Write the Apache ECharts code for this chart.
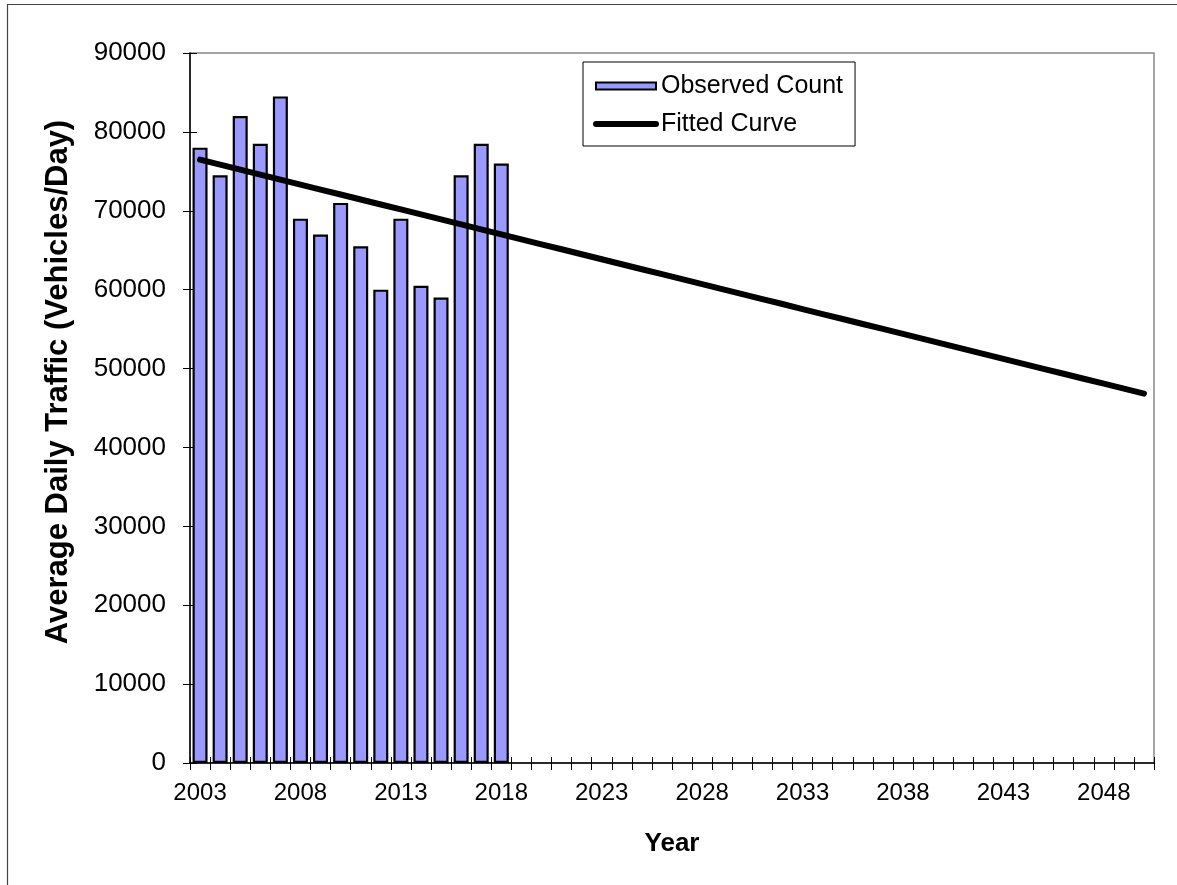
<!DOCTYPE html>
<html>
<head>
<meta charset="utf-8">
<script src="https://cdn.jsdelivr.net/npm/echarts@6/dist/echarts.min.js"></script>
<style>
html,body{margin:0;padding:0;background:#fff;}
#chart{width:1177px;height:885px;}
</style>
</head>
<body>
<div id="chart"></div>
<script>
var years = ['2003','2004','2005','2006','2007','2008','2009','2010','2011','2012','2013','2014','2015','2016','2017','2018',
  '2019','2020','2021','2022','2023','2024','2025','2026','2027','2028','2029','2030','2031','2032','2033','2034',
  '2035','2036','2037','2038','2039','2040','2041','2042','2043','2044','2045','2046','2047','2048','2049','2050'];
var observedCount = [78000, 74500, 82000, 78500, 84500, 69000, 67000, 71000, 65500, 60000, 69000, 60500, 59000, 74500, 78500, 76000];
var fittedCurve = [76480, 75850, 75220, 74590, 73950, 73320, 72690, 72060, 71430, 70800, 70170, 69540, 68900, 68270, 67640, 67010,
  66380, 65750, 65120, 64490, 63860, 63220, 62590, 61960, 61330, 60700, 60070, 59440, 58810, 58180, 57540, 56910,
  56280, 55650, 55020, 54390, 53760, 53130, 52490, 51860, 51230, 50600, 49970, 49340, 48710, 48080, 47450, 46820];
var yMin = 0, yMax = 90000, yStep = 10000;
var font = 'Liberation Sans, Arial, sans-serif';

var chart = echarts.init(document.getElementById('chart'), null, {renderer: 'canvas'});
chart.setOption({
  backgroundColor: '#ffffff',
  animation: false,
  textStyle: {fontFamily: font, color: '#000'},
  graphic: [{
    type: 'polyline', z: -10, silent: true,
    shape: {points: [[7.5, 900], [7.5, 4.5], [1200, 4.5]]},
    style: {fill: 'none', stroke: '#444', lineWidth: 1.2}
  }],
  grid: {
    left: 190, top: 53, width: 964, height: 710,
    show: true, borderColor: '#888', borderWidth: 1.5, backgroundColor: 'transparent'
  },
  legend: {
    orient: 'vertical', left: 583, top: 62,
    padding: [11, 12, 9, 10], itemGap: 12,
    itemWidth: 60, itemHeight: 7,
    borderColor: '#000', borderWidth: 1, backgroundColor: '#fff',
    textStyle: {fontFamily: font, fontSize: 25, color: '#000', lineHeight: 26},
    data: [
      {name: 'Observed Count', icon: 'rect'},
      {name: 'Fitted Curve', lineStyle: {width: 6, cap: 'round', color: '#000'}}
    ]
  },
  xAxis: [{
    type: 'category', data: years, position: 'bottom', boundaryGap: true,
    name: 'Year', nameLocation: 'middle', nameGap: 68,
    nameTextStyle: {fontFamily: font, fontSize: 26, fontWeight: 'bold', color: '#000'},
    axisLine: {show: true, lineStyle: {color: '#000', width: 1.5}},
    axisTick: {show: true, interval: 0, length: 7, lineStyle: {color: '#000', width: 1}},
    axisLabel: {interval: 4, margin: 18, fontSize: 24, color: '#000', fontFamily: font},
    splitLine: {show: false}
  }, {
    type: 'category', data: years, position: 'bottom', boundaryGap: true,
    axisLine: {show: false},
    axisTick: {show: true, inside: true, interval: 0, length: 6, lineStyle: {color: '#000', width: 1}},
    axisLabel: {show: false},
    splitLine: {show: false}
  }],
  yAxis: [{
    type: 'value', min: yMin, max: yMax, interval: yStep, position: 'left',
    name: 'Average Daily Traffic (Vehicles/Day)', nameLocation: 'middle', nameGap: 116, nameRotate: 90,
    nameTextStyle: {fontFamily: font, fontSize: 31, fontWeight: 'bold', color: '#000', padding: [0, 0, 0, 52]},
    axisLine: {show: true, lineStyle: {color: '#000', width: 1.5}},
    axisTick: {show: true, length: 7, lineStyle: {color: '#000', width: 1}},
    axisLabel: {margin: 24, fontSize: 26, color: '#000', fontFamily: font,
      formatter: function (v) { return String(v); }},
    splitLine: {show: false}
  }, {
    type: 'value', min: yMin, max: yMax, interval: yStep, position: 'left',
    axisLine: {show: false},
    axisTick: {show: true, inside: true, length: 7, lineStyle: {color: '#000', width: 1}},
    axisLabel: {show: false},
    splitLine: {show: false}
  }],
  series: [{
    name: 'Observed Count', type: 'bar', xAxisIndex: 0, yAxisIndex: 0,
    data: observedCount, barWidth: 15,
    itemStyle: {color: '#9999ff', borderColor: '#000', borderWidth: 2.2}
  }, {
    name: 'Fitted Curve', type: 'line', xAxisIndex: 0, yAxisIndex: 0,
    data: fittedCurve, symbol: 'none', smooth: false, z: 5,
    lineStyle: {color: '#000', width: 6, cap: 'round', join: 'round'},
    itemStyle: {color: '#000'}
  }]
});
</script>
</body>
</html>
